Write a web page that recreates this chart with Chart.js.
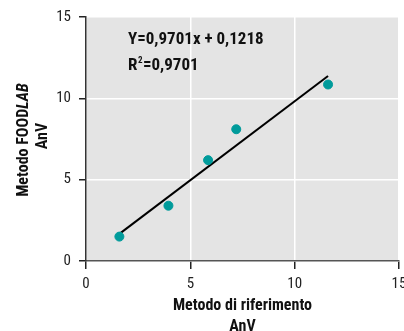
<!DOCTYPE html>
<html>
<head>
<meta charset="utf-8">
<script src="https://cdn.jsdelivr.net/npm/chart.js@4.4.1/dist/chart.umd.min.js"></script>
<style>
  html, body { margin: 0; padding: 0; background: #fff; overflow: hidden; }
  #wrap { width: 420px; height: 331px; }
</style>
</head>
<body>
<div id="wrap"><canvas id="mycanvas" width="420" height="331"></canvas></div>
<script>
// measured points: reference method (x) vs FOODLAB (y)
var refValues = [1.6, 3.95, 5.85, 7.2, 11.6];
var labValues = [1.5, 3.4, 6.2, 8.1, 10.85];

// regression line end points
var fitX = [1.6, 11.6];
var fitY = [1.67, 11.37];

var tickValues = [0, 5, 10, 15];
var equationText = "Y=0,9701x + 0,1218";
var r2Value = "=0,9701";

var narrow = '"Liberation Sans Narrow", "Roboto Condensed", "DejaVu Sans Condensed", sans-serif';

var pointData = [];
for (var i in refValues) {
  pointData.push({ x: refValues[i], y: labValues[i] });
}
var lineData = [];
for (var j in fitX) {
  lineData.push({ x: fitX[j], y: fitY[j] });
}

// gray plot background + texts
var extras = {
  id: 'extras',
  beforeDraw: function(chart) {
    var c = chart.ctx, a = chart.chartArea;
    c.save();
    c.fillStyle = '#e4e4e4';
    c.fillRect(a.left, a.top, a.right - a.left, a.bottom - a.top);
    c.restore();
  },
  afterDraw: function(chart) {
    var c = chart.ctx, a = chart.chartArea;
    c.save();
    c.fillStyle = '#111';
    c.textBaseline = 'alphabetic';

    // equation
    c.font = 'bold 17px ' + narrow;
    c.textAlign = 'left';
    c.fillText(equationText, 128, 43.5);
    c.fillText('R', 128, 69.5);
    var rw = c.measureText('R').width;
    c.font = 'bold 9px ' + narrow;
    c.fillText('2', 128 + rw + 0.5, 63);
    var sw = c.measureText('2').width;
    c.font = 'bold 17px ' + narrow;
    c.fillText(r2Value, 128 + rw + sw + 1, 69.5);

    // x title
    var cx = (a.left + a.right) / 2;
    c.textAlign = 'center';
    c.font = 'bold 16px ' + narrow;
    c.fillText('Metodo di riferimento', cx, 310);
    c.fillText('AnV', cx, 331);

    // y title (rotated, with italic LAB)
    var cy = (a.top + a.bottom) / 2;
    c.translate(27.5, cy + 1);
    c.rotate(-Math.PI / 2);
    c.font = 'bold 16px ' + narrow;
    var p1 = 'Metodo FOOD';
    var w1 = c.measureText(p1).width;
    c.font = 'italic bold 16px ' + narrow;
    var w2 = c.measureText('LAB').width;
    var sx = -(w1 + w2) / 2;
    c.textAlign = 'left';
    c.font = 'bold 16px ' + narrow;
    c.fillText(p1, sx, 0);
    c.font = 'italic bold 16px ' + narrow;
    c.fillText('LAB', sx + w1, 0);
    c.textAlign = 'center';
    c.font = 'bold 16px ' + narrow;
    c.fillText('AnV', 4, 19);
    c.restore();
  }
};

var ctx = document.getElementById('mycanvas');

var chart = new Chart(ctx, {
  type: 'scatter',
  data: {
    datasets: [{
      label: 'punti',
      data: pointData,
      backgroundColor: '#009b9b',
      borderColor: '#009b9b',
      pointRadius: 4.5,
      order: 1
    }, {
      label: 'retta',
      type: 'line',
      data: lineData,
      borderColor: '#000',
      borderWidth: 2,
      pointRadius: 0,
      fill: false,
      order: 2
    }]
  },
  options: {
    responsive: false,
    animation: false,
    layout: { padding: { left: 0, top: 16, right: 21, bottom: 0 } },
    plugins: {
      legend: { display: false },
      tooltip: { enabled: false }
    },
    scales: {
      x: {
        type: 'linear',
        min: 0, max: 15,
        afterBuildTicks: function(s) { s.ticks = tickValues.map(function(v) { return { value: v }; }); },
        afterFit: function(s) { s.height = 70; },
        grid: { color: '#fff', lineWidth: 1.5, tickColor: '#222', tickLength: 8 },
        border: { color: '#555', width: 1.5 },
        ticks: { color: '#222', font: { family: narrow, size: 15 }, padding: 6, maxRotation: 0 }
      },
      y: {
        type: 'linear',
        min: 0, max: 15,
        afterBuildTicks: function(s) { s.ticks = tickValues.map(function(v) { return { value: v }; }); },
        afterFit: function(s) { s.width = 86; },
        grid: { color: '#fff', lineWidth: 1.5, tickColor: '#222', tickLength: 7 },
        border: { color: '#333', width: 1.5 },
        ticks: { color: '#222', font: { family: narrow, size: 15 }, padding: 8 }
      }
    }
  },
  plugins: [extras]
});
</script>
</body>
</html>
